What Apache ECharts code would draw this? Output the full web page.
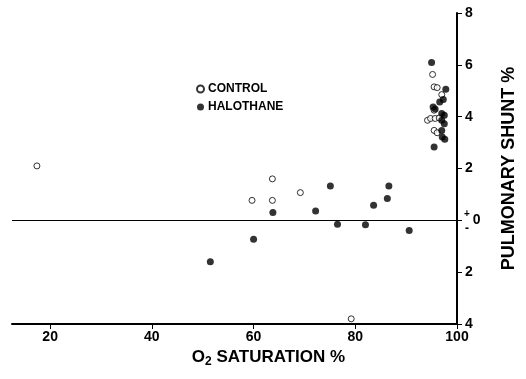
<!DOCTYPE html>
<html>
<head>
<meta charset="utf-8">
<script src="https://cdn.jsdelivr.net/npm/echarts@6/dist/echarts.min.js"></script>
<style>
  html, body { margin: 0; padding: 0; background: #fff; }
  #chart { width: 526px; height: 379px; }
</style>
</head>
<body>
<div id="chart"></div>
<script>
const controlSat = [17.4, 59.7, 63.7, 63.7, 69.2, 79.2, 95.2, 95.5, 96.1, 97.0, 95.5, 94.2, 94.8, 95.7, 96.5, 95.5, 96.1];
const controlShunt = [2.1, 0.77, 1.6, 0.77, 1.07, -3.8, 5.63, 5.15, 5.12, 4.85, 4.25, 3.86, 3.93, 3.93, 3.95, 3.47, 3.38];
const halothaneSat = [51.5, 60.0, 63.8, 72.2, 75.1, 76.5, 82.0, 83.6, 86.3, 86.6, 90.6, 95.0, 97.8, 97.3, 96.6, 95.3, 95.7, 97.0, 97.5, 97.0, 97.5, 97.0, 97.1, 97.6, 95.5];
const halothaneShunt = [-1.6, -0.73, 0.3, 0.36, 1.32, -0.15, -0.17, 0.58, 0.84, 1.32, -0.39, 6.09, 5.06, 4.66, 4.57, 4.37, 4.3, 4.12, 4.05, 3.86, 3.73, 3.47, 3.22, 3.13, 2.83];
const xTicks = [20, 40, 60, 80, 100];

const font = "'Liberation Sans', Arial, sans-serif";
const chart = echarts.init(document.getElementById("chart"), null, { renderer: "canvas" });

chart.setOption({
  animation: false,
  backgroundColor: "#fff",
  grid: { left: 12, right: 68, top: 13, bottom: 55 },
  legend: {
    orient: "vertical",
    left: 191,
    top: 78,
    itemWidth: 7,
    itemHeight: 7,
    itemGap: 6,
    icon: "circle",
    textStyle: { fontFamily: font, fontWeight: "bold", fontSize: 12, color: "#000", padding: [0, 0, 0, -1] },
    data: ["CONTROL", "HALOTHANE"]
  },
  xAxis: {
    type: "value",
    min: 12.5,
    max: 100,
    name: "{n|O}{s|2}{n| SATURATION %}",
    nameLocation: "middle",
    nameGap: 17,
    nameTextStyle: {
      padding: [0, 0, 0, 68],
      rich: {
        n: { fontFamily: font, fontWeight: "bold", fontSize: 17, color: "#000" },
        s: { fontFamily: font, fontWeight: "bold", fontSize: 12, color: "#000", padding: [8, 0, 0, 0] }
      }
    },
    axisLine: { onZero: false, lineStyle: { color: "#000", width: 2 } },
    axisTick: { customValues: xTicks, length: 5, lineStyle: { color: "#000", width: 1 } },
    axisLabel: { customValues: xTicks, fontFamily: font, fontWeight: "bold", fontSize: 14, color: "#000", margin: 6 },
    splitLine: { show: false }
  },
  yAxis: {
    type: "value",
    position: "right",
    min: -4,
    max: 8,
    interval: 2,
    name: "PULMONARY SHUNT %",
    nameLocation: "middle",
    nameRotate: 90,
    nameGap: 43,
    nameTextStyle: { fontFamily: font, fontWeight: "bold", fontSize: 18, color: "#000" },
    axisLine: { lineStyle: { color: "#000", width: 2 } },
    axisTick: { length: 5, lineStyle: { color: "#000", width: 1 } },
    axisLabel: {
      fontFamily: font, fontWeight: "bold", fontSize: 14, color: "#000", margin: 8,
      formatter: (v) => (v === 0 ? "  " + v : String(Math.abs(v)))
    },
    splitLine: { show: false }
  },
  series: [
    {
      name: "CONTROL",
      type: "scatter",
      symbolSize: 6,
      itemStyle: { color: "#fff", borderColor: "#000", borderWidth: 1 },
      data: controlSat.map((x, i) => [x, controlShunt[i]]),
      markLine: {
        silent: true,
        symbol: "none",
        label: { show: false },
        lineStyle: { color: "#000", width: 1, type: "solid" },
        data: [{ yAxis: 0 }]
      }
    },
    {
      name: "HALOTHANE",
      type: "scatter",
      symbolSize: 7,
      itemStyle: { color: "#000" },
      data: halothaneSat.map((x, i) => [x, halothaneShunt[i]])
    }
  ]
});

// small +/- signs beside the zero label
const zero = chart.convertToPixel({ gridIndex: 0 }, [100, 0]);
chart.setOption({
  graphic: [
    { type: "text", left: zero[0] + 7, top: zero[1] - 11, style: { text: "+", font: "bold 10px " + font, fill: "#000" } },
    { type: "text", left: zero[0] + 8, top: zero[1] + 2, style: { text: "-", font: "bold 12px " + font, fill: "#000" } }
  ]
});
</script>
</body>
</html>
